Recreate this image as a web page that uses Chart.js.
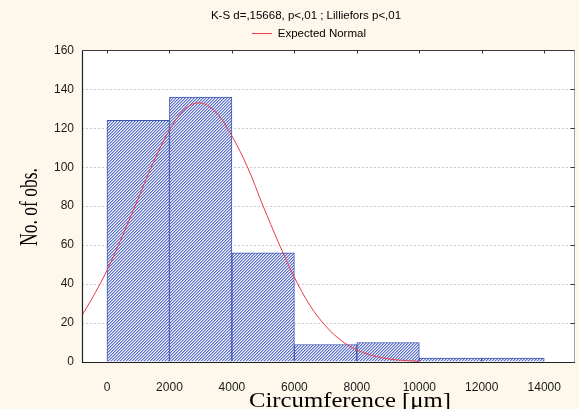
<!DOCTYPE html>
<html><head><meta charset="utf-8">
<script src="https://cdn.jsdelivr.net/npm/chart.js@4.4.1/dist/chart.umd.min.js"></script>
<style>html,body{margin:0;padding:0;background:#FDF8EB;overflow:hidden}canvas{display:block}</style>
</head><body>
<canvas id="c" width="579" height="409"></canvas>
<script>
// ---- data ----
const chartTitle = 'K-S d=,15668, p<,01 ; Lilliefors p<,01';
const legendLabel = 'Expected Normal';
const xAxisTitle = 'Circumference [\u03BCm]';
const yAxisTitle = 'No. of obs.';
const binCenters = [1000, 3000, 5000, 7000, 9000, 11000, 13000];
const binCounts  = [124, 136, 56, 9, 10, 2, 2];
const normalX = [-800, -500, 0, 500, 1000, 1500, 2000, 2500, 3000, 3500, 4000, 4500, 5000,
                 5500, 6000, 6500, 7000, 7500, 8000, 8500, 9000, 9500, 10000];
const normalY = [24, 32, 47, 65, 84, 103, 119, 130, 133, 128, 116, 100, 80,
                 61, 43.5, 29, 18.5, 11, 6.2, 3.3, 1.6, 0.8, 0.3];
const xTicks = [0, 2000, 4000, 6000, 8000, 10000, 12000, 14000];
const yTicks = [0, 20, 40, 60, 80, 100, 120, 140, 160];

// ---- hatch pattern for the bars ----
function makeHatch(ctx) {
  const t = document.createElement('canvas');
  t.width = 3; t.height = 3;
  const tc = t.getContext('2d');
  const img = tc.createImageData(3, 3);
  const cols = [[92, 112, 200], [170, 180, 230], [242, 244, 252]];
  for (let y = 0; y < 3; y++) for (let x = 0; x < 3; x++) {
    const c = cols[(x + y) % 3];
    const i = (y * 3 + x) * 4;
    img.data[i] = c[0]; img.data[i + 1] = c[1]; img.data[i + 2] = c[2]; img.data[i + 3] = 255;
  }
  tc.putImageData(img, 0, 0);
  return ctx.createPattern(t, 'repeat');
}

const SANS = '"Liberation Sans", Arial, sans-serif';
const SERIF = '"Liberation Serif", "Times New Roman", serif';

const bgPlugin = {
  id: 'bg',
  beforeDraw(chart) {
    const {ctx, chartArea: a} = chart;
    ctx.save();
    ctx.fillStyle = '#FDF8EB';
    ctx.fillRect(0, 0, chart.width, chart.height);
    ctx.fillStyle = '#FFFFFF';
    ctx.fillRect(a.left, a.top, a.right - a.left, a.bottom - a.top);
    ctx.restore();
  }
};

const framePlugin = {
  id: 'frame',
  afterDatasetsDraw(chart) {
    const {ctx, chartArea: a, scales} = chart;
    const L = Math.round(a.left) + 0.5, R = Math.round(a.right) - 0.5;
    const T = Math.round(a.top) + 0.5, B = Math.round(a.bottom) + 0.5;
    ctx.save();
    ctx.lineWidth = 1;
    ctx.strokeStyle = '#a0a0a0';
    ctx.beginPath(); ctx.moveTo(R, T); ctx.lineTo(R, B); ctx.stroke();
    ctx.strokeStyle = '#3a3a3a';
    ctx.beginPath(); ctx.moveTo(L, T); ctx.lineTo(R, T); ctx.stroke();
    ctx.strokeStyle = '#222';
    ctx.lineWidth = 1.2;
    ctx.beginPath(); ctx.moveTo(L, T); ctx.lineTo(L, B); ctx.lineTo(R + 0.5, B); ctx.stroke();
    ctx.lineWidth = 1;
    ctx.strokeStyle = '#333';
    ctx.beginPath();
    xTicks.forEach(v => {
      const px = Math.round(scales.x.getPixelForValue(v)) + 0.5;
      ctx.moveTo(px, T); ctx.lineTo(px, T + 3);
    });
    yTicks.forEach(v => {
      const py = Math.round(scales.y.getPixelForValue(v)) + 0.5;
      ctx.moveTo(R - 4, py); ctx.lineTo(R, py);
    });
    ctx.stroke();
    ctx.restore();
  }
};

const axisTitlePlugin = {
  id: 'axisTitles',
  afterDraw(chart) {
    const ctx = chart.ctx;
    ctx.save();
    ctx.fillStyle = '#000';
    ctx.textBaseline = 'alphabetic';
    ctx.textAlign = 'center';
    ctx.font = '22px ' + SERIF;
    let w = ctx.measureText(xAxisTitle).width;
    ctx.save();
    ctx.translate(350, 406.5);
    ctx.scale(202 / w, 1);
    ctx.fillText(xAxisTitle, 0, 0);
    ctx.restore();
    ctx.font = '26px ' + SERIF;
    w = ctx.measureText(yAxisTitle).width;
    ctx.save();
    ctx.translate(36.5, 207);
    ctx.rotate(-Math.PI / 2);
    ctx.scale(78 / w, 1);
    ctx.fillText(yAxisTitle, 0, 0);
    ctx.restore();
    ctx.restore();
  }
};

const shiftHeader = {
  id: 'shiftHeader',
  afterLayout(chart) {
    const t = chart.titleBlock;
    if (t) { t.left += 17; t.right += 17; }
    const l = chart.legend;
    if (l) { l.left += 20; l.right += 20; l.top -= 1; l.bottom -= 1; }
  }
};

const ctx = document.getElementById('c').getContext('2d');
const hatch = makeHatch(ctx);

new Chart(ctx, {
  type: 'bar',
  data: {
    datasets: [
      {
        type: 'bar',
        label: 'Circumference',
        data: binCenters.map((x, i) => ({x: x, y: binCounts[i]})),
        backgroundColor: hatch,
        borderColor: '#3A55B0',
        borderWidth: 1,
        barPercentage: 1,
        categoryPercentage: 1,
        order: 1
      },
      {
        type: 'line',
        label: legendLabel,
        data: normalX.map((x, i) => ({x: x, y: normalY[i]})),
        borderColor: '#EC3A48',
        backgroundColor: '#EC3A48',
        borderWidth: 1,
        pointRadius: 0,
        tension: 0.35,
        fill: false,
        order: 0
      }
    ]
  },
  options: {
    responsive: false,
    animation: false,
    devicePixelRatio: 1,
    layout: {padding: {left: 0, right: 1, top: 0, bottom: 0}},
    scales: {
      x: {
        type: 'linear', min: -800, max: 15000, offset: false,
        afterBuildTicks: s => { s.ticks = xTicks.map(v => ({value: v})); },
        afterFit: s => { s.height = 47; },
        grid: {display: false, drawTicks: false},
        border: {display: false},
        ticks: {padding: 18, autoSkip: false, maxRotation: 0, color: '#1a1a1a',
                font: {family: SANS, size: 12}, callback: v => String(v)}
      },
      y: {
        type: 'linear', min: 0, max: 160,
        afterBuildTicks: s => { s.ticks = yTicks.map(v => ({value: v})); },
        afterFit: s => { s.width = 82; },
        grid: {color: '#cccccc', lineWidth: 1, drawTicks: false},
        border: {display: false, dash: [2, 2]},
        ticks: {padding: 8, color: '#1a1a1a', font: {family: SANS, size: 12}}
      }
    },
    plugins: {
      title: {display: true, text: chartTitle, color: '#000',
              font: {family: SANS, size: 11.5, weight: 'normal'}, padding: {top: 9, bottom: 1}},
      legend: {display: true, position: 'top',
        labels: {filter: it => it.datasetIndex === 1, usePointStyle: true, pointStyle: 'line',
                 pointStyleWidth: 20, padding: 5, color: '#000', font: {family: SANS, size: 11.5}}},
      tooltip: {enabled: false}
    }
  },
  plugins: [bgPlugin, framePlugin, axisTitlePlugin, shiftHeader]
});
</script>
</body></html>
